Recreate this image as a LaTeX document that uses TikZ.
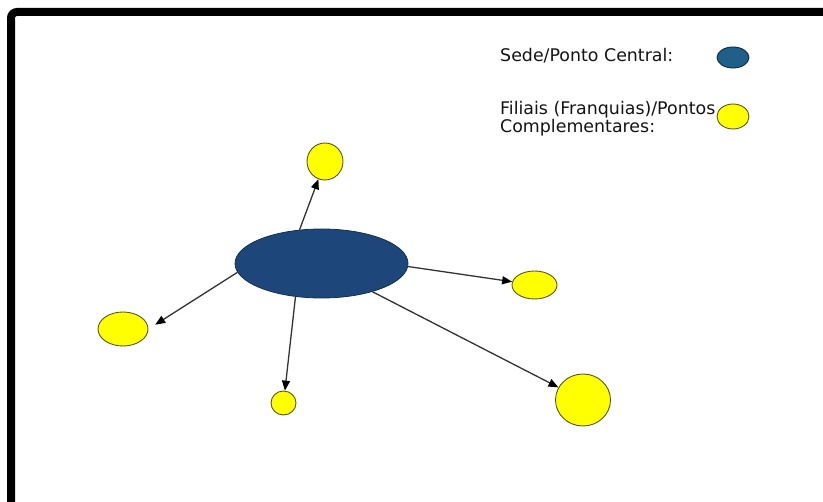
\documentclass[tikz,border=0pt]{standalone}
\usepackage{fontspec}
\setmainfont{DejaVu Sans}
\usetikzlibrary{arrows.meta,shapes.geometric}
\definecolor{hub}{HTML}{1D477A}
\definecolor{hubline}{HTML}{14304F}
\definecolor{legblue}{HTML}{215F8B}
\definecolor{legline}{HTML}{0D2B40}
\definecolor{branch}{HTML}{FFFF00}
\definecolor{branchline}{HTML}{55552A}
\definecolor{linkgray}{HTML}{333333}
\definecolor{txt}{HTML}{141414}
\tikzset{
  hubnode/.style={ellipse, fill=hub, draw=hubline, line width=0.8pt, inner sep=0pt},
  leaf/.style={ellipse, fill=branch, draw=branchline, line width=0.9pt, inner sep=0pt},
  legtext/.style={anchor=base west, inner sep=0pt, text=txt, font=\fontsize{17.4}{15}\selectfont},
  conn/.style={draw=linkgray, line width=1.3pt, -{Triangle[length=10pt,width=8pt,color=black]}},
  frame/.style={draw=black, line width=8pt, rounded corners=6pt}
}
\begin{document}
\begin{tikzpicture}[x=1pt,y=-1pt]
\useasboundingbox (0,0) rectangle (823,502);
\draw[frame] (11,12) rectangle (845,525);

% central node
\node[hubnode, minimum width=173pt, minimum height=69pt] (c) at (321.5,263.5) {};

% branches
\node[leaf, minimum width=36pt, minimum height=37pt] (t) at (325,161.5) {};
\node[leaf, minimum width=45pt, minimum height=28pt] (r) at (534.5,285) {};
\node[leaf, minimum width=55pt, minimum height=52pt] (b) at (583,400) {};
\node[leaf, minimum width=25pt, minimum height=24pt] (s) at (283.5,403) {};
\node[leaf, minimum width=50pt, minimum height=34pt] (l) at (123,329) {};

% connectors
\draw[conn] (c.123) -- (t);
\draw[conn] (c.-2) -- (r);
\draw[conn] (c.-29) -- (b);
\draw[conn] (c.-128) -- (s);
\draw[conn, shorten >=8pt] (c.186) -- (l.east);

% legend
\node[legtext] (lt1) at (500,62) {Sede/Ponto Central:};
\node[ellipse, fill=legblue, draw=legline, line width=0.9pt, inner sep=0pt,
      minimum width=32pt, minimum height=21pt] (lb) at (733,57.5) {};
\node[anchor=north west, inner sep=0pt, text=txt, align=left,
      font=\fontsize{17.4}{15}\selectfont] (lt2) at (500,101)
      {Filiais (Franquias)/Pontos\\Complementares:};
\node[leaf, minimum width=32pt, minimum height=25pt] (ly) at (733,116.5) {};
\end{tikzpicture}
\end{document}
